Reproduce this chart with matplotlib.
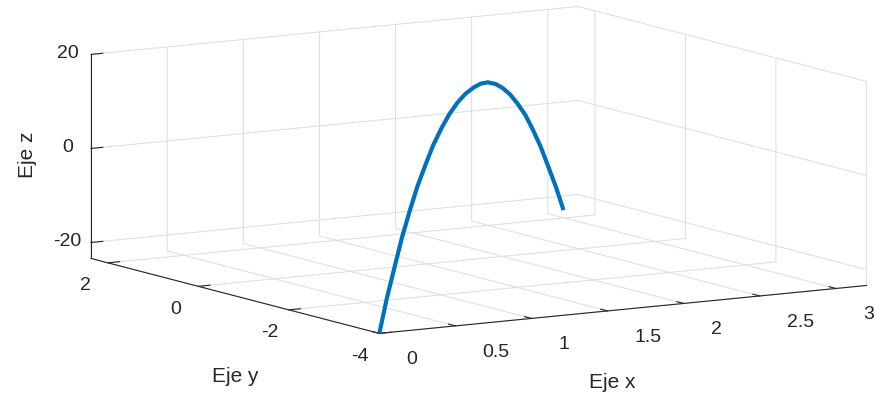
import matplotlib
matplotlib.use("Agg")
import matplotlib.pyplot as plt
import numpy as np

# Data (3D curve)
x_vals = [0, 0.129, 0.258, 0.387, 0.516, 0.647, 0.777, 0.907, 1.038, 1.170, 1.301, 1.434, 1.567,
          1.693, 1.819, 1.946, 2.072, 2.201, 2.329, 2.458, 2.586, 2.715, 2.844, 2.975, 3.104]
y_vals = [-4.0, -3.73, -3.47, -3.20, -2.94, -2.67, -2.41, -2.14, -1.88, -1.61, -1.35, -1.08, -0.82,
          -0.55, -0.28, -0.02, 0.25, 0.51, 0.78, 1.04, 1.31, 1.57, 1.84, 2.10, 2.37]
z_vals = [-23.4, -17.1, -11.4, -6.2, -1.5, 2.6, 6.1, 9.1, 11.6, 13.5, 14.9, 15.7, 16.0,
          15.7, 14.9, 13.5, 11.6, 9.1, 6.1, 2.6, -1.5, -6.2, -11.4, -17.1, -23.0]

x_ticks = [0, 0.5, 1, 1.5, 2, 2.5, 3]
x_ticklabels = ["0", "0.5", "1", "1.5", "2", "2.5", "3"]
y_ticks = [-4, -2, 0, 2]
y_ticklabels = ["-4", "-2", "0", "2"]
z_ticks = [-20, 0, 20]
z_ticklabels = ["-20", "0", "20"]

plt.rcParams['font.family'] = ['Liberation Sans', 'DejaVu Sans']
fig = plt.figure(figsize=(8.74, 3.98), dpi=100)
ax = fig.add_axes([0.0416, 0.0595, 1, 1], projection='3d', proj_type='ortho')
ax.set_box_aspect((1, 0.962, 0.3615), zoom=2.0)
ax.view_init(elev=9.2, azim=-121.6)

ax.plot(x_vals, y_vals, z_vals, color='#0072BD', linewidth=3, solid_capstyle='butt')

ax.set_xlim(0, 3.2)
ax.set_ylim(-4, 2.37)
ax.set_zlim(-23.4, 20)

ax.set_xticks(x_ticks)
ax.set_xticklabels(x_ticklabels)
ax.set_yticks(y_ticks)
ax.set_yticklabels(y_ticklabels)
ax.set_zticks(z_ticks)
ax.set_zticklabels(z_ticklabels)

grid_col = '#e0e0e0'
for axis in (ax.xaxis, ax.yaxis, ax.zaxis):
    axis.set_pane_color((1, 1, 1, 0))
    axis._axinfo['grid']['color'] = grid_col
    axis._axinfo['grid']['linewidth'] = 0.8
    axis._axinfo['axisline']['color'] = '#262626'
    axis._axinfo['tick']['color'] = '#262626'
    axis._axinfo['tick']['inward_factor'] = 0.0
    axis._axinfo['tick']['outward_factor'] = 0.3
    axis.pane.set_edgecolor(grid_col)
    axis.line.set_linewidth(0.8)
    axis.line.set_color('#262626')

ax.tick_params(axis='both', labelsize=14, colors='#262626')
ax.xaxis.set_tick_params(pad=6)
ax.yaxis.set_tick_params(pad=0.5)
ax.zaxis.set_tick_params(pad=-3.5)
for lbl in ax.xaxis.get_ticklabels():
    lbl.set_horizontalalignment('left')
    lbl.set_verticalalignment('center')
for lbl in ax.yaxis.get_ticklabels():
    lbl.set_horizontalalignment('left')
for lbl in ax.zaxis.get_ticklabels():
    lbl.set_verticalalignment('center')
ax.set_xlabel('')
ax.set_ylabel('')
ax.set_zlabel('')

fig.text(0.700, 0.040, 'Eje x', fontsize=15, color='#262626', ha='center', va='center')
fig.text(0.269, 0.053, 'Eje y', fontsize=15, color='#262626', ha='center', va='center')
fig.text(0.031, 0.611, 'Eje z', fontsize=15, color='#262626', ha='center', va='center', rotation=90)

fig.savefig('out.png', dpi=100, facecolor='white')
